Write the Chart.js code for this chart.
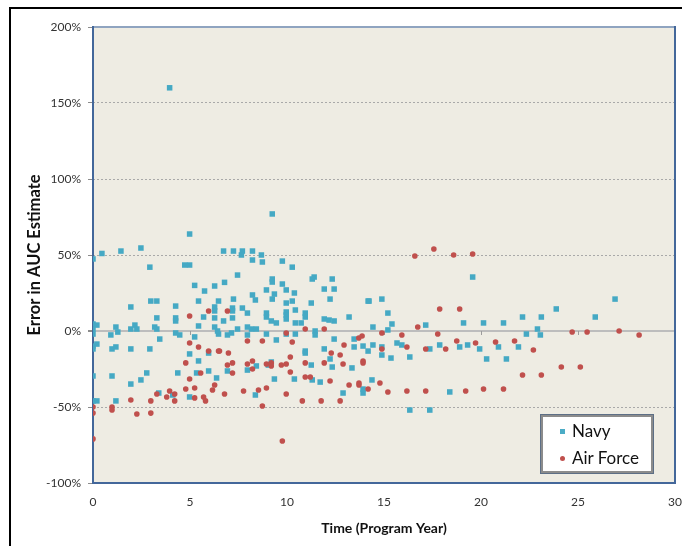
<!DOCTYPE html>
<html><head><meta charset="utf-8">
<script src="https://cdn.jsdelivr.net/npm/chart.js@4/dist/chart.umd.min.js"></script>
<style>
html,body{margin:0;padding:0;background:#fff;}
#wrap{position:relative;width:682px;height:546px;overflow:hidden;background:#fff;}
#c{position:absolute;left:0;top:0;}
#frame{position:absolute;left:9px;top:7px;width:700px;height:600px;border-left:2px solid #000;border-top:2px solid #000;pointer-events:none;}
#legend{position:absolute;left:541px;top:415px;width:108px;height:54px;background:#fff;border:2px solid #8c8c8c;box-shadow:0 0 0 1px #5d6f86;font-family:Lato,"Open Sans",sans-serif;font-size:17px;color:#111;}
#legend .row{position:absolute;left:0;height:20px;line-height:20px;}
#legend .mk{position:absolute;}
#legend .tx{position:absolute;left:29px;white-space:nowrap;}
</style></head>
<body>
<div id="wrap">
<canvas id="c" width="682" height="546"></canvas>
<div id="frame"></div>
<div id="legend">
 <div class="row" style="top:4px;width:100%"><div class="mk" style="left:17px;top:8px;width:5px;height:5px;background:#4BACC6"></div><div class="tx">Navy</div></div>
 <div class="row" style="top:31px;width:100%"><div class="mk" style="left:17px;top:8px;width:5px;height:5px;border-radius:50%;background:#C0504D"></div><div class="tx">Air Force</div></div>
</div>
</div>
<script>
// Navy: program year and error in AUC estimate (%)
const navyYears = [
 3.95,4.98,9.24,0.46,1.44,2.47,6.73,7.24,7.7,7.65,8.22,8.68,0,2.93,4.73,4.98,8.22,8.73,9.76,10.27,
 7.45,6.78,5.24,5.75,6.27,9.24,9.24,9.76,11.4,11.3,12.33,8.94,9.96,10.38,8.22,8.37,7.24,9.24,9.35,10.27,
 9.96,11.92,12.43,12.22,11.25,14.18,5.44,6.47,1.95,2.98,3.29,4.26,3.29,4.26,4.26,5.7,6.27,6.27,6.27,6.73,
 5.44,6.27,7.19,7.19,7.19,7.7,7.96,8.94,8.94,9.96,9.96,9.96,10.43,10.94,10.94,9.19,9.45,10.43,10.73,11.92,
 12.17,12.43,13.2,7.96,8.17,8.42,7.45,0,0.2,0,0,1.18,1.28,0.92,2.16,1.95,2.26,3.18,3.29,3.44,
 4.26,4.47,5.24,6.47,6.93,7.14,7.96,8.94,9.45,9.96,10.43,11.45,11.45,12.43,13.46,13.46,13.92,14.18,0,0.2,
 0,0.98,1.18,1.95,2.93,4.98,5.44,5.96,6.93,0,0.98,1.95,2.47,2.77,4.37,5.34,5.96,6.37,3.39,4.11,
 4.98,0,0.2,1.18,10.94,10.94,11.92,12.22,11.25,12.33,13.35,8.42,7.96,9.19,9.04,9.35,10.38,11.3,11.71,8.37,
 12.89,13.92,13.92,19.57,14.23,14.89,15.2,14.43,15.41,15.2,17.15,19.1,20.13,21.16,14.43,14.89,14.89,15.36,15.67,15.92,
 16.33,17.36,17.87,18.9,19.31,19.93,20.29,20.9,21.31,14.38,18.39,16.33,17.36,26.91,23.88,22.14,23.11,25.89,22.91,22.34,
 23.06,21.93,6.42
];
const navyErrors = [
 160,63.8,77,51,52.6,54.6,52.6,52.6,52.6,50,52.6,50,47.4,42,43.4,43.4,46.7,45.4,46,42,
 36.8,32,30,26.3,29.6,34.2,32.2,30.9,35.5,34.2,34.2,27,27,25,23.7,20.4,21,21,24.3,19.7,
 18.4,27.6,27.6,21,18.4,19.7,19.7,19.7,15.8,19.7,19.7,16.4,8.6,8.6,6.6,9.2,15.8,13.2,8.6,6.6,
 3.3,2.6,15.1,13.2,8.6,15.1,11.8,11.8,9.2,12.5,10.5,7.9,13.8,11.8,9.2,6.6,5.3,5.3,5.3,7.9,
 7.2,6.6,9.2,2.6,1.3,1.3,1.3,4.6,3.9,1.3,-2,2.6,-0.7,-2.6,3.9,1.3,1.3,2.6,1.3,-5.3,
 -1.3,-2.6,-3.9,-2,-2.6,-1.3,-2.6,-2,-5.9,-2,-2,0,-2.6,-5.3,-5.3,-10.5,-9.9,-13.2,-9.9,-8.6,
 -11.8,-11.8,-10.5,-11.8,-11.8,-15.1,-19.7,-14.5,-26.3,-29.6,-29.6,-34.9,-32.2,-27.6,-27.6,-27.6,-26.3,-30.9,-40.8,-42.1,
 -43.4,-46,-46,-46,-13.2,-14.5,-11.8,-18.4,-22.4,-23.7,-24.3,-23,-25.7,-20.4,-22.4,-31.6,-31.6,-32.2,-33.6,-42.1,
 -40.8,-38.2,-40.8,35.5,19.7,21,11.8,2.6,4.6,0.7,3.9,5.3,5.3,5.3,-9.2,-10.5,-15.8,-17.8,-7.9,-9.2,
 -17.1,-11.8,-9.2,-10.5,-9.2,-11.8,-18.4,-10.5,-18.4,-32.2,-40.1,-52,-52,21,14.5,9.2,9.2,9.2,1.3,-2,
 -2.6,-10.5,0
];
// Air Force: program year and error in AUC estimate (%)
const airForceYears = [
 4.98,5.96,6.93,4.98,5.44,5.96,6.47,6.93,4.78,5.55,4.98,6.27,6.16,4.78,5.24,6.78,3.95,4.21,3.8,4.21,
 3.29,5.24,5.7,5.8,1.95,2.98,0,0,0.98,0.98,2.26,2.98,0,10.94,11.92,9.96,13.87,13.7,7.96,8.73,
 10.27,6.52,6.98,7.19,7.96,8.22,8.22,8.94,9.19,9.19,9.71,9.96,10.17,7.19,10.17,10.94,11.92,12.28,12.74,12.94,
 12.89,13.92,13.92,10.94,11.2,12.22,13.2,13.71,13.71,14.18,7.76,8.53,8.94,9.96,10.79,11.76,12.74,8.73,9.76,16.59,
 17.57,18.59,19.57,17.87,18.9,16.74,14.89,15.92,17.77,14.89,16.18,17.15,18.18,18.75,19.72,20.75,14.79,15.2,16.18,17.15,
 19.21,20.13,21.16,24.7,25.47,27.12,28.15,21.73,22.7,22.14,23.11,24.14,25.12
];
const airForceErrors = [
 9.9,13.2,13.2,-7.9,-10.5,-13.2,-13.2,-22.4,-21,-27.6,-31.6,-35.5,-38.8,-38.2,-37.5,-41.4,-39.5,-41.4,-43.4,-46,
 -41.4,-44,-43.4,-46,-45.4,-46,-50,-54,-50,-52,-54.6,-54,-71,1.3,1.3,-1.3,-3.3,-4.6,-6.6,-6.6,
 -7.2,-13.2,-14.5,-21,-21.7,-19.7,-25,-21.7,-21,-23,-22.4,-21.7,-17.1,-27.6,-27,-21,-21,-14.5,-15.8,-9.2,
 -21.7,-19.7,-21,-30.3,-30.3,-32.9,-35.5,-34.2,-35.5,-38.2,-39.5,-38.8,-37.5,-41.4,-46,-46,-46,-49.3,-72.4,49.3,
 53.9,50,50.7,14.5,14.5,2.6,-1.3,-2.6,-2,-11.8,-10.5,-11.8,-11.8,-6.6,-7.9,-7.2,-34.2,-40.1,-39.5,-39.5,
 -39.5,-38.2,-38.2,-0.7,-0.7,0,-2.6,-6.6,-12.5,-28.9,-28.9,-23.7,-23.7
];
const yTickValues = [-100,-50,0,50,100,150,200];
const xTickValues = [0,5,10,15,20,25,30];

const toPoints = (xs, ys) => xs.map((x, i) => ({x: x, y: ys[i]}));
const FONT = 'Lato, "Open Sans", sans-serif';

const plotDecor = {
  id: 'plotDecor',
  beforeDraw(chart) {
    const {ctx, chartArea: a} = chart;
    ctx.save();
    ctx.fillStyle = '#EEECE3';
    ctx.fillRect(a.left, a.top, a.right - a.left, a.bottom - a.top);
    ctx.restore();
  },
  beforeDatasetsDraw(chart) {
    const {ctx, chartArea: a, scales} = chart;
    const y0 = scales.y.getPixelForValue(0);
    ctx.save();
    ctx.strokeStyle = '#9c9c9c';
    ctx.lineWidth = 1;
    xTickValues.forEach(v => {
      const px = Math.round(scales.x.getPixelForValue(v)) + 0.5;
      ctx.beginPath(); ctx.moveTo(px, y0); ctx.lineTo(px, y0 + 4); ctx.stroke();
    });
    ctx.lineWidth = 2;
    ctx.strokeStyle = '#8FA4C0';
    ctx.beginPath(); ctx.moveTo(a.left, a.top); ctx.lineTo(a.right, a.top); ctx.stroke();
    ctx.strokeStyle = '#43679A';
    ctx.beginPath();
    ctx.moveTo(a.left, a.top - 1); ctx.lineTo(a.left, a.bottom);
    ctx.lineTo(a.right, a.bottom); ctx.lineTo(a.right, a.top - 1);
    ctx.stroke();
    ctx.restore();
  }
};

new Chart(document.getElementById('c'), {
  type: 'scatter',
  data: {
    datasets: [
      {label: 'Navy', data: toPoints(navyYears, navyErrors), pointStyle: 'rect', pointRadius: 3.9,
       backgroundColor: '#45A9C4', borderWidth: 0, order: 1},
      {label: 'Air Force', data: toPoints(airForceYears, airForceErrors), pointStyle: 'circle', pointRadius: 2.8,
       backgroundColor: '#C0504D', borderWidth: 0, order: 0}
    ]
  },
  options: {
    responsive: false, animation: false, devicePixelRatio: 1,
    layout: {padding: {left: 0, right: 7, top: 27, bottom: 0}},
    plugins: {legend: {display: false}, tooltip: {enabled: false}},
    scales: {
      x: {
        type: 'linear', min: 0, max: 30,
        afterBuildTicks: s => { s.ticks = xTickValues.map(v => ({value: v})); },
        ticks: {padding: 12, color: '#333', font: {family: FONT, size: 12}, maxRotation: 0},
        grid: {display: false, drawTicks: false},
        border: {display: false},
        title: {display: true, text: 'Time (Program Year)', color: '#111',
                font: {family: FONT, size: 14, weight: 'bold'}, padding: {top: 0, bottom: 9}},
        afterFit: s => { s.height = 63; s.paddingLeft = 0; s.paddingRight = 0; }
      },
      y: {
        type: 'linear', min: -100, max: 200,
        afterBuildTicks: s => { s.ticks = yTickValues.map(v => ({value: v})); },
        ticks: {padding: 7, color: '#333', font: {family: FONT, size: 12}, callback: v => v + '%'},
        grid: {
          color: c => (c.tick && c.tick.value === 0) ? '#BDBDBD' : '#A9A9A9',
          lineWidth: c => (c.tick && c.tick.value === 0) ? 2 : 1,
          tickColor: '#8c8c8c', tickLength: 5
        },
        border: {display: false, dash: c => (c.tick && c.tick.value === 0) ? [] : [2, 2]},
        title: {display: true, text: 'Error in AUC Estimate', color: '#111',
                font: {family: FONT, size: 16.5, weight: 'bold'}, padding: {top: 25, bottom: 0}},
        afterFit: s => { s.width = 93; s.paddingTop = 0; s.paddingBottom = 0; }
      }
    }
  },
  plugins: [plotDecor]
});
</script>
</body></html>
